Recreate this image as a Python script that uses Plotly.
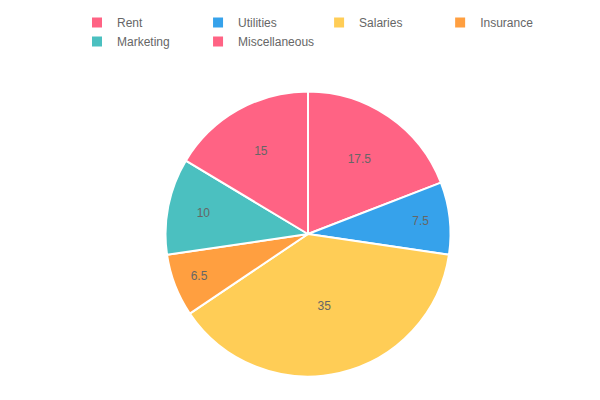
import plotly.graph_objects as go

categories = ["Rent", "Utilities", "Salaries", "Insurance", "Marketing", "Miscellaneous"]
values = [17.5, 7.5, 35, 6.5, 10, 15]
colors = ["#ff6384", "#36a2eb", "#ffcd56", "#ff9f40", "#4bc0c0", "#ff6384"]

fig = go.Figure(go.Pie(
    labels=categories, values=values, sort=False, direction="clockwise", rotation=0,
    domain=dict(x=[129/600, 471/600], y=[3/400, 345/400]),
    marker=dict(colors=colors, line=dict(color="white", width=2)),
    textinfo="value", textposition="inside", insidetextorientation="horizontal",
    textfont=dict(color="#666", size=12), hoverinfo="label+value",
))
fig.update_layout(
    width=600, height=400, margin=dict(l=50, r=50, t=0, b=0),
    paper_bgcolor="white", font=dict(family="Liberation Sans, Arial", color="#666", size=12),
    showlegend=True,
    legend=dict(orientation="h", x=0.5, xanchor="center", y=1, yanchor="top",
                font=dict(size=12, color="#666"), itemwidth=30, tracegroupgap=0),
)
fig.write_html("out.html")
